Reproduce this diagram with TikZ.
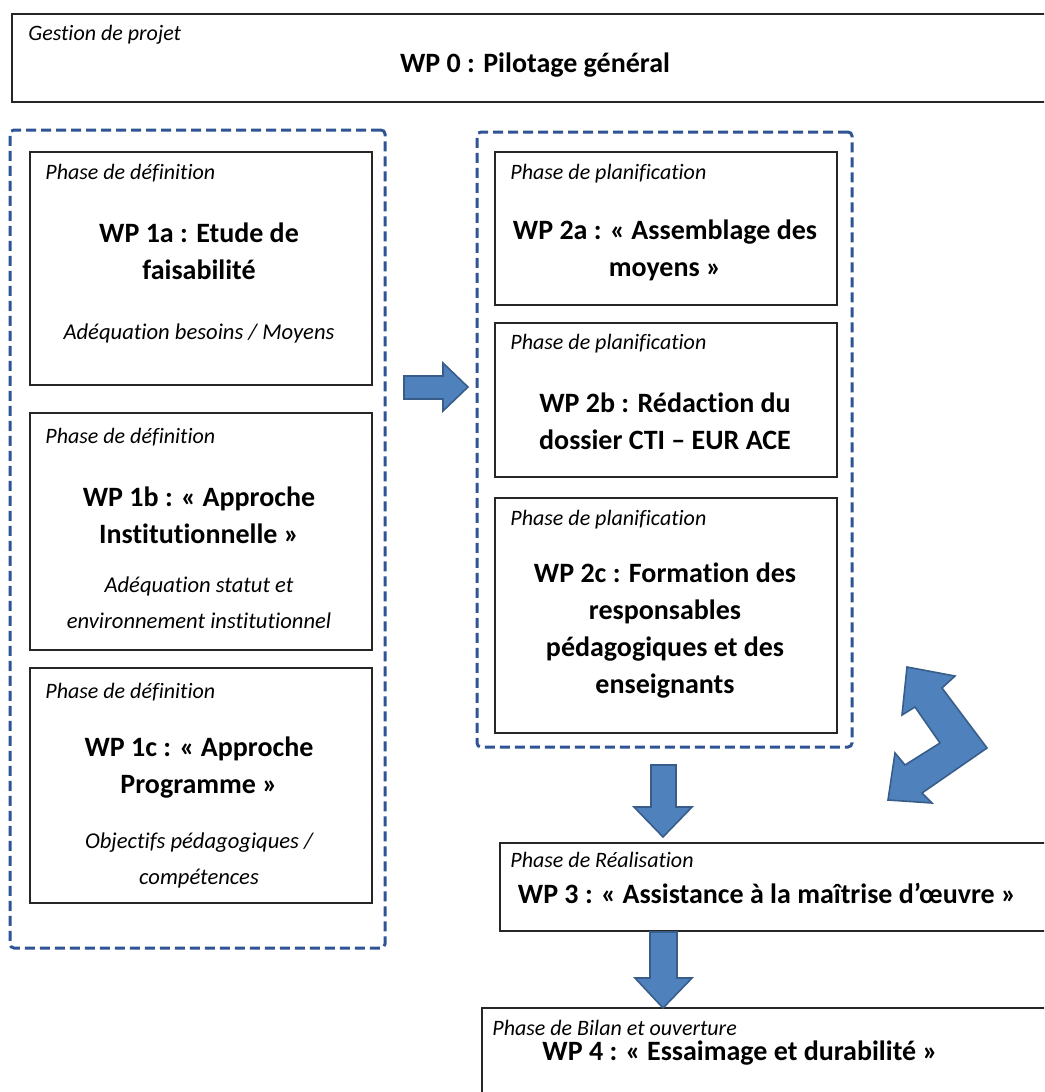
\documentclass[tikz,border=0pt]{standalone}
\usepackage{fontspec}
\setmainfont{Carlito}[Ligatures={TeX,NoCommon}]
\usetikzlibrary{positioning}
\usetikzlibrary{fit}
\definecolor{arrowblue}{RGB}{79,129,189}
\definecolor{arrowedge}{RGB}{56,93,138}
\definecolor{groupblue}{RGB}{46,84,150}
\tikzset{wpbox/.style = {draw=black!85, line width=1.3pt, inner sep=0}}
\tikzset{
  groupbox/.style={draw=groupblue, line width=1.5pt, dash pattern=on 5pt off 2.5pt, rounded corners=2pt, inner sep=0},
  phase/.style={font=\fontsize{11}{13}\itshape\selectfont, anchor=west, inner sep=0},
  wptitle/.style={font=\fontsize{14}{18.5}\bfseries\selectfont, align=center, inner sep=0},
  wpnote/.style={font=\fontsize{11.3}{18}\itshape\selectfont, align=center, inner sep=0},
  blockarrow/.style={fill=arrowblue, draw=arrowedge, line width=0.8pt, line join=miter},
}

\begin{document}
\begin{tikzpicture}[x=0.5pt, y=-0.5pt]
      \clip (0,0) rectangle (1044,1092);
      % pilotage
      \node[wpbox, fit={(12,14) (1058,102)}] (wp0) {};
      \node[phase] (wp0phase) at (28,35) {Gestion de projet};
      \node[wptitle] (wp0title) at (535,65) {WP 0 : Pilotage général};

      % groupes en pointilles
      \node[groupbox, fit={(10,130) (385,948)}] (defgroup) {};
      \node[groupbox, fit={(477,132) (852,747)}] (plangroup) {};

      % phase de definition
      \node[wpbox, fit={(30,152) (372,385)}] (wp1a) {};
      \node[phase] (wp1aphase) at (45,173) {Phase de définition};
      \node[wptitle] (wp1atitle) at (199,251) {WP 1a : Etude de\\faisabilité};
      \node[wpnote] (wp1anote) at (199,333) {Adéquation besoins / Moyens};

      \node[wpbox, fit={(30,413) (372,650)}] (wp1b) {};
      \node[phase] (wp1bphase) at (45,437) {Phase de définition};
      \node[wptitle] (wp1btitle) at (199,515) {WP 1b : « Approche\\Institutionnelle »};
      \node[wpnote] (wp1bnote) at (199,603) {Adéquation statut et\\environnement institutionnel};

      \node[wpbox, fit={(30,668) (372,903)}] (wp1c) {};
      \node[phase] (wp1cphase) at (45,692) {Phase de définition};
      \node[wptitle] (wp1ctitle) at (199,768) {WP 1c : « Approche\\Programme »};
      \node[wpnote] (wp1cnote) at (199,860) {Objectifs pédagogiques /\\compétences};

      % phase de planification
      \node[wpbox, fit={(495,152) (837,305)}] (wp2a) {};
      \node[phase] (wp2aphase) at (510,174) {Phase de planification};
      \node[wptitle] (wp2atitle) at (665,250) {WP 2a : « Assemblage des\\moyens »};

      \node[wpbox, fit={(495,323) (837,477)}] (wp2b) {};
      \node[phase] (wp2bphase) at (510,344) {Phase de planification};
      \node[wptitle] (wp2btitle) at (665,421) {WP 2b : Rédaction du\\dossier CTI – EUR ACE};

      \node[wpbox, fit={(495,498) (837,733)}] (wp2c) {};
      \node[phase] (wp2cphase) at (510,520) {Phase de planification};
      \node[wptitle] (wp2ctitle) at (665,631) {WP 2c : Formation des\\responsables\\pédagogiques et des\\enseignants};

      % realisation et bilan
      \node[wpbox, fit={(500,843) (1058,931)}] (wp3) {};
      \node[phase] (wp3phase) at (510,860) {Phase de Réalisation};
      \node[wptitle] (wp3title) at (767,893) {WP 3 : « Assistance à la maîtrise d’œuvre »};

      \node[wpbox, fit={(482,1008) (1058,1120)}] (wp4) {};
      \node[phase] (wp4phase) at (492,1028) {Phase de Bilan et ouverture};
      \node[wptitle] (wp4title) at (740,1053) {WP 4 : « Essaimage et durabilité »};

      % fleches
      \draw[blockarrow] (404,376) -- (443,376) -- (443,363) -- (468,387) -- (443,411)
        -- (443,399) -- (404,399) -- cycle;
      \draw[blockarrow] (651,765) -- (676,765) -- (676,807) -- (692,807) -- (663,837)
        -- (634,807) -- (651,807) -- cycle;
      \draw[blockarrow] (650,932) -- (677,932) -- (677,978) -- (692,978) -- (663,1008)
        -- (635,978) -- (650,978) -- cycle;
      \draw[blockarrow] (907,667) -- (955,676) -- (942,688) -- (987,748) -- (922,793)
        -- (932,803) -- (888,800) -- (895,753) -- (905,765) -- (940,743)
        -- (915,707) -- (902,715) -- cycle;
    \end{tikzpicture}
\end{document}
